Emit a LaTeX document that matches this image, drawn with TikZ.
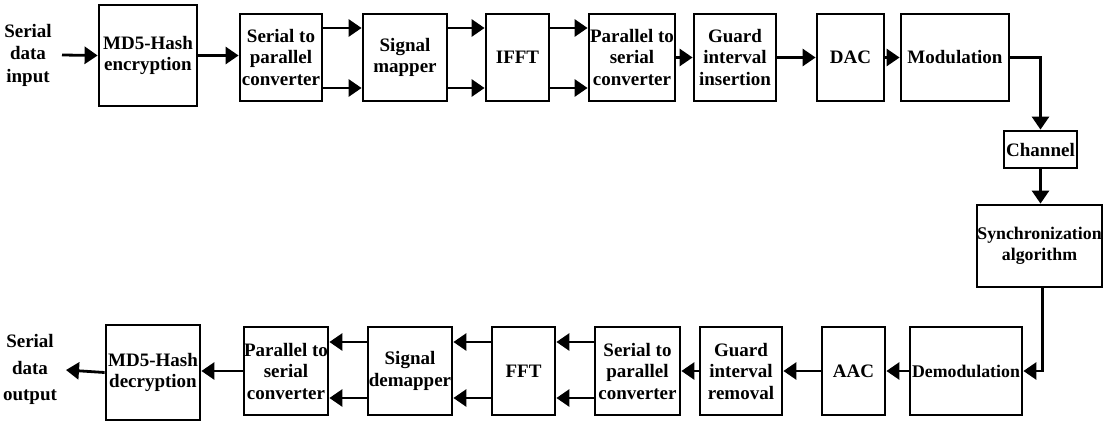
\documentclass[tikz,border=0pt]{standalone}
\usepackage{fontspec}
\setmainfont{Liberation Serif}
\usetikzlibrary{arrows.meta,calc}
\begin{document}
\begin{tikzpicture}[x=1pt,y=-1pt,
  blk/.style={draw,line width=2.8pt,inner sep=0pt,align=center,
    minimum width=#1,
    font=\bfseries\fontsize{19}{21.5}\selectfont,minimum height=87pt},
  small/.style={font=\bfseries\fontsize{17.8}{21.5}\selectfont},
  lbl/.style={inner sep=0pt,align=center,font=\bfseries\fontsize{19}{22.5}\selectfont},
  arr/.style={line width=2.8pt,-{Triangle[length=13pt,width=17pt]}}]
\useasboundingbox (0,0) rectangle (1104,423);
% top row
\node[lbl] (in) at (28,55) {Serial\\data\\input};
\coordinate (inA) at (62,55);
\node[blk=98pt,minimum height=101pt] (md5e) at (148,55.5) {MD5-Hash\\encryption};
\node[blk=82pt] (sp1) at (281,57.5) {Serial to\\parallel\\converter};
\node[blk=84pt] (map) at (405,57.5) {Signal\\mapper};
\node[blk=63pt] (ifft) at (517.5,57.5) {IFFT};
\node[blk=86pt] (ps1) at (632,57.5) {Parallel to\\serial\\converter};
\node[blk=82pt] (gii) at (735,57.5) {Guard\\interval\\insertion};
\node[blk=67pt] (dac) at (850.5,57.5) {DAC};
\node[blk=108pt] (mod) at (955,57.5) {Modulation};
% right column
\node[blk=73pt,minimum height=37pt] (chan) at (1040.5,149.5) {Channel};
\node[blk=125pt,minimum height=82pt,small] (sync) at (1039.5,246) {Synchronization\\algorithm};
% bottom row
\node[blk=112pt,minimum height=88pt,small] (demod) at (966,371) {Demodulation};
\node[blk=63pt,minimum height=88pt] (aac) at (853.5,371) {AAC};
\node[blk=82pt,minimum height=88pt] (gir) at (741,371) {Guard\\interval\\removal};
\node[blk=85pt,minimum height=88pt] (sp2) at (637.5,371) {Serial to\\parallel\\converter};
\node[blk=63pt,minimum height=88pt] (fft) at (523.5,371) {FFT};
\node[blk=84pt,minimum height=88pt] (demap) at (410,371) {Signal\\demapper};
\node[blk=84pt,minimum height=88pt] (ps2) at (286,371) {Parallel to\\serial\\converter};
\node[blk=94pt,minimum height=95pt] (md5d) at (153,372.5) {MD5-Hash\\decryption};
\node[lbl,font=\bfseries\fontsize{19}{26.5}\selectfont] (out) at (30,369.5) {Serial\\data\\output};
\coordinate (outA) at (66,370);
% top connectors
\draw[arr] (inA) -- (md5e.west);
\draw[arr] (md5e.east) -- (md5e.east -| sp1.west);
\foreach \a/\b in {sp1/map,map/ifft,ifft/ps1}{
  \draw[arr] ([yshift=29.5pt]\a.east) -- ([yshift=29.5pt]\a.east -| \b.west);
  \draw[arr] ([yshift=-30.5pt]\a.east) -- ([yshift=-30.5pt]\a.east -| \b.west);
}
\draw[arr] (ps1.east) -- (gii.west);
\draw[arr] (gii.east) -- (dac.west);
\draw[arr] (dac.east) -- (mod.west);
\draw[arr] (mod.east) -| (chan.north);
\draw[arr] (chan.south) -- (chan.south |- sync.north);
\draw[arr] ([xshift=3pt]sync.south) |- (demod.east);
% bottom connectors
\draw[arr] (demod.west) -- (aac.east);
\draw[arr] (aac.west) -- (gir.east);
\draw[arr] (gir.west) -- (sp2.east);
\foreach \a/\b in {sp2/fft,fft/demap,demap/ps2}{
  \draw[arr] ([yshift=29pt]\a.west) -- ([yshift=29pt]\a.west -| \b.east);
  \draw[arr] ([yshift=-27pt]\a.west) -- ([yshift=-27pt]\a.west -| \b.east);
}
\draw[arr] (ps2.west) -- (ps2.west -| md5d.east);
\draw[arr] (md5d.west) -- (outA);
\end{tikzpicture}
\end{document}
